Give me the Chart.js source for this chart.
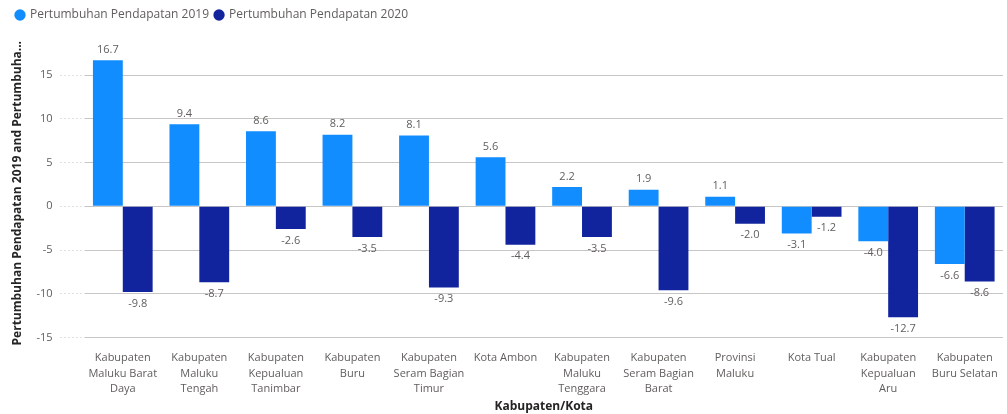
<!DOCTYPE html>
<html>
<head>
<meta charset="utf-8">
<script src="https://cdn.jsdelivr.net/npm/chart.js@4"></script>
<style>
  body { margin: 0; background: #fff; }
  #wrap { width: 1007px; height: 414px; position: relative; }
</style>
</head>
<body>
<div id="wrap"><canvas id="chart"></canvas></div>
<script>
// data
const categories = [
    ['Kabupaten', 'Maluku Barat', 'Daya'],
    ['Kabupaten', 'Maluku', 'Tengah'],
    ['Kabupaten', 'Kepualuan', 'Tanimbar'],
    ['Kabupaten', 'Buru'],
    ['Kabupaten', 'Seram Bagian', 'Timur'],
    ['Kota Ambon'],
    ['Kabupaten', 'Maluku', 'Tenggara'],
    ['Kabupaten', 'Seram Bagian', 'Barat'],
    ['Provinsi', 'Maluku'],
    ['Kota Tual'],
    ['Kabupaten', 'Kepualuan', 'Aru'],
    ['Kabupaten', 'Buru Selatan']
];
const growth2019 = [16.7, 9.4, 8.6, 8.2, 8.1, 5.6, 2.2, 1.9, 1.1, -3.1, -4.0, -6.6];
const growth2020 = [-9.8, -8.7, -2.6, -3.5, -9.3, -4.4, -3.5, -9.6, -2.0, -1.2, -12.7, -8.6];
const yTicks = [-15, -10, -5, 0, 5, 10, 15];

const FONT = "'Open Sans', 'Segoe UI', sans-serif";
const GREY = '#605E5C';

// draws the value above / below each bar
const valueLabels = {
    id: 'valueLabels',
    afterDatasetsDraw(chart) {
        const ctx = chart.ctx;
        ctx.save();
        ctx.font = '11px ' + FONT;
        ctx.fillStyle = GREY;
        ctx.textAlign = 'center';
        chart.data.datasets.forEach((ds, i) => {
            const meta = chart.getDatasetMeta(i);
            meta.data.forEach((bar, j) => {
                const v = ds.data[j];
                if (v >= 0) {
                    ctx.textBaseline = 'bottom';
                    ctx.fillText(v.toFixed(1), bar.x, bar.y - 5);
                } else {
                    ctx.textBaseline = 'top';
                    ctx.fillText(v.toFixed(1), bar.x, bar.y + 6);
                }
            });
        });
        ctx.restore();
    }
};

// leave some room under the legend
const legendGap = {
    id: 'legendGap',
    beforeInit(chart) {
        const fit = chart.legend.fit;
        chart.legend.fit = function () {
            fit.bind(chart.legend)();
            this.height += 18;
        };
    }
};

new Chart(document.getElementById('chart'), {
    type: 'bar',
    data: {
        labels: categories,
        datasets: [
            {
                label: 'Pertumbuhan Pendapatan 2019',
                data: growth2019,
                backgroundColor: '#118DFF'
            },
            {
                label: 'Pertumbuhan Pendapatan 2020',
                data: growth2020,
                backgroundColor: '#12239E'
            }
        ]
    },
    options: {
        responsive: true,
        maintainAspectRatio: false,
        animation: false,
        layout: { padding: { left: 10, right: 4, top: 3, bottom: 0 } },
        datasets: {
            bar: { categoryPercentage: 0.78, barPercentage: 1.0 }
        },
        plugins: {
            legend: {
                position: 'top',
                align: 'start',
                labels: {
                    usePointStyle: true,
                    pointStyle: 'circle',
                    boxWidth: 8,
                    boxHeight: 8,
                    padding: 6,
                    color: GREY,
                    font: { family: FONT, size: 12 }
                }
            },
            tooltip: { enabled: false }
        },
        scales: {
            x: {
                grid: { display: false },
                border: { display: false },
                ticks: {
                    color: GREY,
                    font: { family: FONT, size: 11, lineHeight: 1.4 },
                    maxRotation: 0,
                    autoSkip: false,
                    padding: 5
                },
                title: {
                    display: true,
                    text: 'Kabupaten/Kota',
                    color: '#252423',
                    font: { family: FONT, size: 12, weight: 'bold' },
                    padding: { top: -2, bottom: 0 }
                }
            },
            y: {
                min: -15,
                max: 18,
                afterBuildTicks(axis) {
                    axis.ticks = yTicks.map(v => ({ value: v }));
                },
                grid: {
                    color: '#C8C6C4',
                    lineWidth: 1,
                    borderDash: [1, 3],
                    tickLength: 24,
                    tickColor: '#C8C6C4',
                    tickBorderDash: [1, 3]
                },
                border: { display: false },
                ticks: {
                    color: GREY,
                    font: { family: FONT, size: 11 },
                    padding: 8
                },
                title: {
                    display: true,
                    text: 'Pertumbuhan Pendapatan 2019 and Pertumbuha...',
                    color: '#252423',
                    font: { family: FONT, size: 12, weight: 'bold' },
                    padding: { top: 0, bottom: 4 }
                }
            }
        }
    },
    plugins: [valueLabels, legendGap]
});
</script>
</body>
</html>
